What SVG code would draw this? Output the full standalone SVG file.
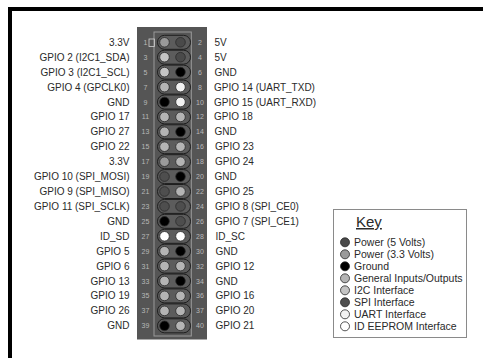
<svg xmlns="http://www.w3.org/2000/svg" width="483" height="358" viewBox="0 0 483 358">
<style>
.l{font-family:"Liberation Sans",Arial,sans-serif;font-size:10px;fill:#2a2a2a;text-anchor:end}
.r{font-family:"Liberation Sans",Arial,sans-serif;font-size:10px;fill:#2a2a2a}
.n{font-family:"Liberation Sans",Arial,sans-serif;font-size:7px;fill:#b8b8b8;text-anchor:middle}
.k{font-family:"Liberation Sans",Arial,sans-serif;font-size:10.5px;fill:#2a2a2a}
.ov{fill:#5c5c5c;stroke:#1e1e1e;stroke-width:1}
.p{stroke:#2a2a2a;stroke-width:0.8}
.p5{fill:#4a4a4a}.p3{fill:#9a9a9a}.g{fill:#000}.io{fill:#b4b4b4}.i2{fill:#c4c4c4}.spi{fill:#4e4e4e}.u{fill:#f2f2f2}.id{fill:#fff}
</style>
<rect x="0" y="0" width="483" height="358" fill="#fff"/>
<path d="M10 358 V9 H483" fill="none" stroke="#000" stroke-width="4"/>
<g id="header">
<rect x="137" y="27" width="70" height="312.5" fill="#555"/>
<rect x="154" y="32" width="37.3" height="304" fill="none" stroke="#9a9a9a" stroke-width="1"/>
<rect x="149" y="39" width="5.5" height="7.5" fill="none" stroke="#d0d0d0" stroke-width="0.8"/>
</g>
<g id="pins">
<g id="row1"><rect class="ov" x="157.5" y="35.3" width="33" height="14" rx="7"/><circle class="p p3" cx="164.5" cy="42.3" r="4.8"/><circle class="p p5" cx="180.5" cy="42.3" r="4.8"/><text class="n" x="145.5" y="44.8">1</text><text class="n" x="200" y="44.8">2</text></g>
<g id="row2"><rect class="ov" x="157.5" y="50.2" width="33" height="14" rx="7"/><circle class="p i2" cx="164.5" cy="57.2" r="4.8"/><circle class="p p5" cx="180.5" cy="57.2" r="4.8"/><text class="n" x="145.5" y="59.7">3</text><text class="n" x="200" y="59.7">4</text></g>
<g id="row3"><rect class="ov" x="157.5" y="65.1" width="33" height="14" rx="7"/><circle class="p i2" cx="164.5" cy="72.1" r="4.8"/><circle class="p g" cx="180.5" cy="72.1" r="4.8"/><text class="n" x="145.5" y="74.6">5</text><text class="n" x="200" y="74.6">6</text></g>
<g id="row4"><rect class="ov" x="157.5" y="80.1" width="33" height="14" rx="7"/><circle class="p io" cx="164.5" cy="87.1" r="4.8"/><circle class="p u" cx="180.5" cy="87.1" r="4.8"/><text class="n" x="145.5" y="89.6">7</text><text class="n" x="200" y="89.6">8</text></g>
<g id="row5"><rect class="ov" x="157.5" y="95" width="33" height="14" rx="7"/><circle class="p g" cx="164.5" cy="102" r="4.8"/><circle class="p u" cx="180.5" cy="102" r="4.8"/><text class="n" x="145.5" y="104.5">9</text><text class="n" x="200" y="104.5">10</text></g>
<g id="row6"><rect class="ov" x="157.5" y="109.9" width="33" height="14" rx="7"/><circle class="p io" cx="164.5" cy="116.9" r="4.8"/><circle class="p io" cx="180.5" cy="116.9" r="4.8"/><text class="n" x="145.5" y="119.4">11</text><text class="n" x="200" y="119.4">12</text></g>
<g id="row7"><rect class="ov" x="157.5" y="124.8" width="33" height="14" rx="7"/><circle class="p io" cx="164.5" cy="131.8" r="4.8"/><circle class="p g" cx="180.5" cy="131.8" r="4.8"/><text class="n" x="145.5" y="134.3">13</text><text class="n" x="200" y="134.3">14</text></g>
<g id="row8"><rect class="ov" x="157.5" y="139.7" width="33" height="14" rx="7"/><circle class="p io" cx="164.5" cy="146.7" r="4.8"/><circle class="p io" cx="180.5" cy="146.7" r="4.8"/><text class="n" x="145.5" y="149.2">15</text><text class="n" x="200" y="149.2">16</text></g>
<g id="row9"><rect class="ov" x="157.5" y="154.7" width="33" height="14" rx="7"/><circle class="p p3" cx="164.5" cy="161.7" r="4.8"/><circle class="p io" cx="180.5" cy="161.7" r="4.8"/><text class="n" x="145.5" y="164.2">17</text><text class="n" x="200" y="164.2">18</text></g>
<g id="row10"><rect class="ov" x="157.5" y="169.6" width="33" height="14" rx="7"/><circle class="p spi" cx="164.5" cy="176.6" r="4.8"/><circle class="p g" cx="180.5" cy="176.6" r="4.8"/><text class="n" x="145.5" y="179.1">19</text><text class="n" x="200" y="179.1">20</text></g>
<g id="row11"><rect class="ov" x="157.5" y="184.5" width="33" height="14" rx="7"/><circle class="p spi" cx="164.5" cy="191.5" r="4.8"/><circle class="p io" cx="180.5" cy="191.5" r="4.8"/><text class="n" x="145.5" y="194">21</text><text class="n" x="200" y="194">22</text></g>
<g id="row12"><rect class="ov" x="157.5" y="199.4" width="33" height="14" rx="7"/><circle class="p spi" cx="164.5" cy="206.4" r="4.8"/><circle class="p spi" cx="180.5" cy="206.4" r="4.8"/><text class="n" x="145.5" y="208.9">23</text><text class="n" x="200" y="208.9">24</text></g>
<g id="row13"><rect class="ov" x="157.5" y="214.3" width="33" height="14" rx="7"/><circle class="p g" cx="164.5" cy="221.3" r="4.8"/><circle class="p spi" cx="180.5" cy="221.3" r="4.8"/><text class="n" x="145.5" y="223.8">25</text><text class="n" x="200" y="223.8">26</text></g>
<g id="row14"><rect class="ov" x="157.5" y="229.3" width="33" height="14" rx="7"/><circle class="p id" cx="164.5" cy="236.3" r="4.8"/><circle class="p id" cx="180.5" cy="236.3" r="4.8"/><text class="n" x="145.5" y="238.8">27</text><text class="n" x="200" y="238.8">28</text></g>
<g id="row15"><rect class="ov" x="157.5" y="244.2" width="33" height="14" rx="7"/><circle class="p io" cx="164.5" cy="251.2" r="4.8"/><circle class="p g" cx="180.5" cy="251.2" r="4.8"/><text class="n" x="145.5" y="253.7">29</text><text class="n" x="200" y="253.7">30</text></g>
<g id="row16"><rect class="ov" x="157.5" y="259.1" width="33" height="14" rx="7"/><circle class="p io" cx="164.5" cy="266.1" r="4.8"/><circle class="p io" cx="180.5" cy="266.1" r="4.8"/><text class="n" x="145.5" y="268.6">31</text><text class="n" x="200" y="268.6">32</text></g>
<g id="row17"><rect class="ov" x="157.5" y="274" width="33" height="14" rx="7"/><circle class="p io" cx="164.5" cy="281" r="4.8"/><circle class="p g" cx="180.5" cy="281" r="4.8"/><text class="n" x="145.5" y="283.5">33</text><text class="n" x="200" y="283.5">34</text></g>
<g id="row18"><rect class="ov" x="157.5" y="288.9" width="33" height="14" rx="7"/><circle class="p io" cx="164.5" cy="295.9" r="4.8"/><circle class="p io" cx="180.5" cy="295.9" r="4.8"/><text class="n" x="145.5" y="298.4">35</text><text class="n" x="200" y="298.4">36</text></g>
<g id="row19"><rect class="ov" x="157.5" y="303.9" width="33" height="14" rx="7"/><circle class="p io" cx="164.5" cy="310.9" r="4.8"/><circle class="p io" cx="180.5" cy="310.9" r="4.8"/><text class="n" x="145.5" y="313.4">37</text><text class="n" x="200" y="313.4">37</text></g>
<g id="row20"><rect class="ov" x="157.5" y="318.8" width="33" height="14" rx="7"/><circle class="p g" cx="164.5" cy="325.8" r="4.8"/><circle class="p io" cx="180.5" cy="325.8" r="4.8"/><text class="n" x="145.5" y="328.3">39</text><text class="n" x="200" y="328.3">40</text></g>
</g>
<g id="labels-left">
<text class="l" x="129.5" y="45.8">3.3V</text>
<text class="l" x="129.5" y="60.7">GPIO 2 (I2C1_SDA)</text>
<text class="l" x="129.5" y="75.6">GPIO 3 (I2C1_SCL)</text>
<text class="l" x="129.5" y="90.6">GPIO 4 (GPCLK0)</text>
<text class="l" x="129.5" y="105.5">GND</text>
<text class="l" x="129.5" y="120.4">GPIO 17</text>
<text class="l" x="129.5" y="135.3">GPIO 27</text>
<text class="l" x="129.5" y="150.2">GPIO 22</text>
<text class="l" x="129.5" y="165.2">3.3V</text>
<text class="l" x="129.5" y="180.1">GPIO 10 (SPI_MOSI)</text>
<text class="l" x="129.5" y="195">GPIO 9 (SPI_MISO)</text>
<text class="l" x="129.5" y="209.9">GPIO 11 (SPI_SCLK)</text>
<text class="l" x="129.5" y="224.8">GND</text>
<text class="l" x="129.5" y="239.8">ID_SD</text>
<text class="l" x="129.5" y="254.7">GPIO 5</text>
<text class="l" x="129.5" y="269.6">GPIO 6</text>
<text class="l" x="129.5" y="284.5">GPIO 13</text>
<text class="l" x="129.5" y="299.4">GPIO 19</text>
<text class="l" x="129.5" y="314.4">GPIO 26</text>
<text class="l" x="129.5" y="329.3">GND</text>
</g>
<g id="labels-right">
<text class="r" x="214.5" y="45.8">5V</text>
<text class="r" x="214.5" y="60.7">5V</text>
<text class="r" x="214.5" y="75.6">GND</text>
<text class="r" x="214" y="90.6">GPIO 14 (UART_TXD)</text>
<text class="r" x="214" y="105.5">GPIO 15 (UART_RXD)</text>
<text class="r" x="214" y="120.4">GPIO 18</text>
<text class="r" x="214.5" y="135.3">GND</text>
<text class="r" x="215" y="150.2">GPIO 23</text>
<text class="r" x="215" y="165.2">GPIO 24</text>
<text class="r" x="214.5" y="180.1">GND</text>
<text class="r" x="215" y="195">GPIO 25</text>
<text class="r" x="215" y="209.9">GPIO 8 (SPI_CE0)</text>
<text class="r" x="215" y="224.8">GPIO 7 (SPI_CE1)</text>
<text class="r" x="215.5" y="239.8">ID_SC</text>
<text class="r" x="215.5" y="254.7">GND</text>
<text class="r" x="215.5" y="269.6">GPIO 12</text>
<text class="r" x="215.5" y="284.5">GND</text>
<text class="r" x="215.5" y="299.4">GPIO 16</text>
<text class="r" x="215.5" y="314.4">GPIO 20</text>
<text class="r" x="215.5" y="329.3">GPIO 21</text>
</g>
<g id="key">
<rect x="333.5" y="209.5" width="133" height="128" fill="#fff" stroke="#8a8a8a" stroke-width="1"/>
<text x="356" y="227" font-family="'Liberation Sans',Arial,sans-serif" font-size="15" fill="#2a2a2a" text-decoration="underline">Key</text>
<circle class="p p5" cx="345" cy="242.3" r="4.5"/><text class="k" x="354" y="246">Power (5 Volts)</text>
<circle class="p p3" cx="345" cy="254.3" r="4.5"/><text class="k" x="354" y="258">Power (3.3 Volts)</text>
<circle class="p g" cx="345" cy="266.3" r="4.5"/><text class="k" x="354" y="270">Ground</text>
<circle class="p io" cx="345" cy="278.3" r="4.5"/><text class="k" x="354" y="282">General Inputs/Outputs</text>
<circle class="p i2" cx="345" cy="290.3" r="4.5"/><text class="k" x="354" y="294">I2C Interface</text>
<circle class="p spi" cx="345" cy="302.3" r="4.5"/><text class="k" x="354" y="306">SPI Interface</text>
<circle class="p u" cx="345" cy="314.3" r="4.5"/><text class="k" x="354" y="318">UART Interface</text>
<circle class="p id" cx="345" cy="326.3" r="4.5"/><text class="k" x="354" y="330">ID EEPROM Interface</text>
</g>
</svg>
